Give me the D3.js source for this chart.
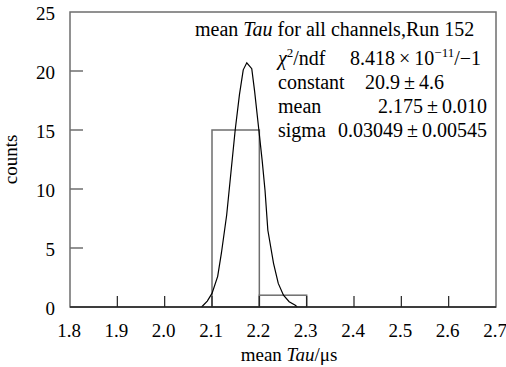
<!DOCTYPE html>
<html lang='en'>
	<head>
		<meta charset='utf-8'>
		<title>mean Tau histogram</title>
		<script type='text/javascript' src='https://cdn.jsdelivr.net/npm/d3@7'></script>
		<style>
			body { margin: 0; background: #fff; }
			text { font-family: 'Liberation Serif', 'Times New Roman', serif; fill: #000; }
		</style>
	</head>
	<body>
	</body>
	<script type='text/javascript'>
	// histogram bins (width 0.1) and counts
	var bin_edges = [1.8, 1.9, 2.0, 2.1, 2.2, 2.3, 2.4, 2.5, 2.6, 2.7];
	var bin_counts = [0, 0, 0, 15, 1, 0, 0, 0, 0];
	// fitted gaussian curve as drawn
	var fit_x = [2.078, 2.090, 2.100, 2.112, 2.120, 2.131, 2.140, 2.149, 2.158, 2.166, 2.1735, 2.184, 2.190, 2.199, 2.206, 2.212, 2.218, 2.230, 2.240, 2.251, 2.263, 2.276, 2.280];
	var fit_y = [0, 0.5, 1.15, 2.6, 4.6, 7.8, 11.4, 15.0, 18.0, 20.1, 20.7, 20.2, 18.3, 15.0, 12.4, 9.9, 6.5, 3.7, 2.0, 1.0, 0.45, 0.15, 0];
	var x_ticks = [1.8, 1.9, 2.0, 2.1, 2.2, 2.3, 2.4, 2.5, 2.6, 2.7];
	var y_ticks = [0, 5, 10, 15, 20, 25];
	var stat_names = ['constant', 'mean', 'sigma'];
	var stat_values = ['20.9\u2009\u00b1\u20094.6', '2.175\u2009\u00b1\u20090.010', '0.03049\u2009\u00b1\u20090.00545'];

	function plot_it() {
		var width = 506, height = 367;
		var pad_l = 70, pad_r = 496, pad_t = 12, pad_b = 307;
		var grey = '#6e6e6e';
		var fs = '19px', fs_box = '20px';

		var svg = d3.select('body').append('svg').attr('width', width).attr('height', height);

		var sx = d3.scaleLinear().domain([1.8, 2.7]).range([pad_l, pad_r]);
		var sy = d3.scaleLinear().domain([0, 25]).range([pad_b, pad_t]);

		// frame
		svg.append('rect').attr('x', pad_l).attr('y', pad_t).attr('width', pad_r-pad_l).attr('height', pad_b-pad_t)
			.attr('fill', 'none').attr('stroke', grey).attr('stroke-width', 1.5);

		// histogram bars
		var bins = bin_counts.map((c, i) => ({x0: bin_edges[i], x1: bin_edges[i+1], n: c})).filter(d => d.n > 0);
		svg.selectAll('rect.bar').data(bins).enter().append('rect').attr('class', 'bar')
			.attr('x', d => sx(d.x0)).attr('y', d => sy(d.n))
			.attr('width', d => sx(d.x1)-sx(d.x0)).attr('height', d => sy(0)-sy(d.n))
			.attr('fill', 'none').attr('stroke', grey).attr('stroke-width', 1.5);

		// fit curve
		var line = d3.line().x(d => sx(d[0])).y(d => sy(d[1]));
		svg.append('path').datum(fit_x.map((v, i) => [v, fit_y[i]]))
			.attr('d', line).attr('fill', 'none').attr('stroke', '#000').attr('stroke-width', 1.2);

		// bottom axis line
		svg.append('line').attr('x1', pad_l).attr('x2', pad_r).attr('y1', pad_b).attr('y2', pad_b)
			.attr('stroke', '#222').attr('stroke-width', 1.6);

		// ticks (inside)
		svg.selectAll('line.xt').data(x_ticks.slice(1, -1)).enter().append('line')
			.attr('x1', d => sx(d)).attr('x2', d => sx(d)).attr('y1', pad_b).attr('y2', pad_b-11)
			.attr('stroke', '#222').attr('stroke-width', 1.2);
		svg.selectAll('line.yt').data(y_ticks.slice(1, -1)).enter().append('line')
			.attr('x1', pad_l).attr('x2', pad_l+13).attr('y1', d => sy(d)).attr('y2', d => sy(d))
			.attr('stroke', grey).attr('stroke-width', 1.5);

		// tick labels
		svg.selectAll('text.xl').data(x_ticks).enter().append('text')
			.attr('x', d => sx(d)-1).attr('y', pad_b+30).attr('text-anchor', 'middle')
			.attr('font-size', fs).text(d => d.toFixed(1));
		svg.selectAll('text.yl').data(y_ticks).enter().append('text')
			.attr('x', pad_l-15).attr('y', d => sy(d)+8).attr('text-anchor', 'end')
			.attr('font-size', fs).text(d => d);

		// axis titles
		var xt = svg.append('text').attr('x', 289).attr('y', 361).attr('text-anchor', 'middle').attr('font-size', fs);
		xt.append('tspan').text('mean ');
		xt.append('tspan').attr('font-style', 'italic').text('Tau');
		xt.append('tspan').text('/\u03bcs');
		svg.append('text').attr('transform', 'translate(17,' + ((pad_t+pad_b)/2) + ') rotate(-90)')
			.attr('text-anchor', 'middle').attr('font-size', fs).text('counts');

		// stats box text
		var tt = svg.append('text').attr('x', 195).attr('y', 36).attr('font-size', fs_box);
		tt.append('tspan').text('mean ');
		tt.append('tspan').attr('font-style', 'italic').text('Tau');
		tt.append('tspan').text(' for all channels,Run 152');

		var chi = svg.append('text').attr('x', 278).attr('y', 65).attr('font-size', fs_box);
		chi.append('tspan').attr('font-style', 'italic').text('\u03c7');
		chi.append('tspan').attr('font-size', '13px').attr('dy', -8).text('2');
		chi.append('tspan').attr('dy', 8).text('/ndf');
		var chv = svg.append('text').attr('x', 350).attr('y', 65).attr('font-size', fs_box);
		chv.append('tspan').text('8.418\u2009\u00d7\u200910');
		chv.append('tspan').attr('font-size', '13px').attr('dy', -8).text('\u221211');
		chv.append('tspan').attr('dy', 8).text('/\u22121');

		var stat_x = [365, 378, 338];
		stat_names.forEach(function(n, i) {
			svg.append('text').attr('x', 278).attr('y', 89 + i*24).attr('font-size', fs_box).text(n);
			svg.append('text').attr('x', stat_x[i]).attr('y', 89 + i*24).attr('font-size', fs_box).text(stat_values[i]);
		});
	}
	plot_it();
	</script>
</html>
